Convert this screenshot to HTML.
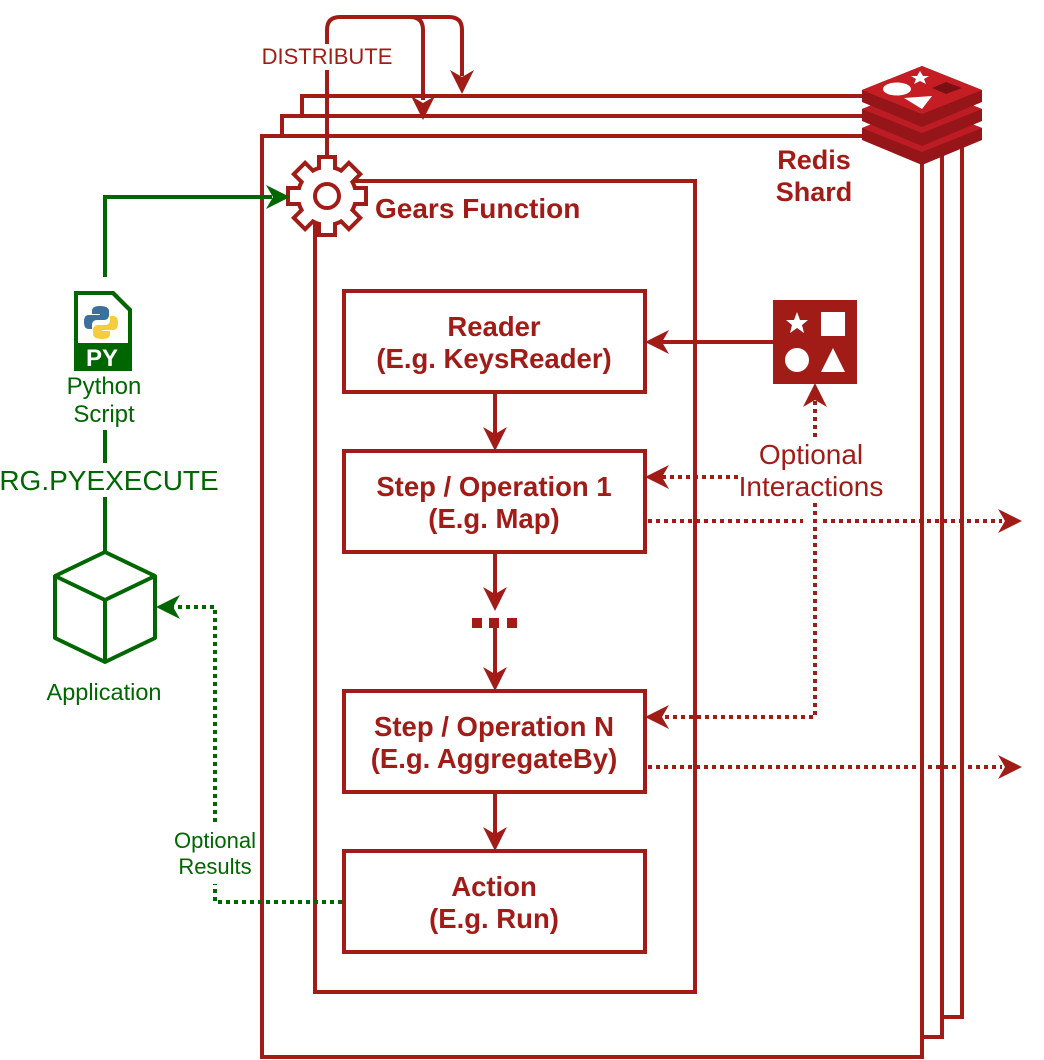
<!DOCTYPE html>
<html><head><meta charset="utf-8"><style>
html,body{margin:0;padding:0;background:#fff;}
svg{display:block;}
text{font-family:"Liberation Sans",sans-serif;}
</style></head><body>
<svg width="1044" height="1060" viewBox="0 0 1044 1060" xmlns="http://www.w3.org/2000/svg">
<defs>
<g id="ah"><polygon points="0,0 -24,-12 -17,0 -24,12"/></g>
<g id="teeth">
<circle r="27"/>
<rect x="-6" y="-37" width="12" height="12" transform="rotate(0)"/>
<rect x="-6" y="-37" width="12" height="12" transform="rotate(45)"/>
<rect x="-6" y="-37" width="12" height="12" transform="rotate(90)"/>
<rect x="-6" y="-37" width="12" height="12" transform="rotate(135)"/>
<rect x="-6" y="-37" width="12" height="12" transform="rotate(180)"/>
<rect x="-6" y="-37" width="12" height="12" transform="rotate(225)"/>
<rect x="-6" y="-37" width="12" height="12" transform="rotate(270)"/>
<rect x="-6" y="-37" width="12" height="12" transform="rotate(315)"/>
</g>
</defs>
<g fill="none" stroke="#A21C17" stroke-width="4">
<rect x="302" y="96" width="660" height="921" fill="#fff"/>
<rect x="282" y="116" width="660" height="921" fill="#fff"/>
<rect x="262" y="136" width="660" height="921" fill="#fff"/>
<rect x="315" y="181" width="380" height="811"/>
</g>
<g fill="none" stroke="#A21C17" stroke-width="4">
<path d="M327,160 V30 Q327,17 340,17 H410 Q423,17 423,30 V100"/>
<path d="M410,17 H449 Q462,17 462,30 V76"/>
</g>
<rect x="258" y="44" width="138" height="26" fill="#fff"/>
<text x="327" y="64" font-size="22" fill="#A21C17" text-anchor="middle">DISTRIBUTE</text>
<g fill="#A21C17">
<use href="#ah" transform="translate(423,120) rotate(90)"/>
<use href="#ah" transform="translate(462,94) rotate(90)"/>
</g>
<g transform="translate(327,196)">
<use href="#teeth" fill="#fff" stroke="#A21C17" stroke-width="8"/>
<use href="#teeth" fill="#fff"/>
<circle r="12" fill="none" stroke="#A21C17" stroke-width="4"/>
</g>
<text x="375" y="218" font-size="28" font-weight="bold" fill="#A21C17">Gears Function</text>
<text x="814" y="169" font-size="27" font-weight="bold" fill="#A21C17" text-anchor="middle">Redis</text>
<text x="814" y="201" font-size="27" font-weight="bold" fill="#A21C17" text-anchor="middle">Shard</text>
<g>
<g transform="translate(0,38)"><path d="M862,90 L922,66 L982,90 V102 L922,127 L862,102 Z" fill="#951519"/><polygon points="862,90 922,66 982,90 922,114" fill="#BE1C24"/></g>
<g transform="translate(0,19)"><path d="M862,90 L922,66 L982,90 V102 L922,127 L862,102 Z" fill="#951519"/><polygon points="862,90 922,66 982,90 922,114" fill="#BE1C24"/></g>
<path d="M862,90 L922,66 L982,90 V102 L922,127 L862,102 Z" fill="#951519"/>
<polygon points="862,90 922,66 982,90 922,114" fill="#C41E24"/>
<ellipse cx="897" cy="89" rx="14" ry="6.5" fill="#fff"/>
<polygon points="920,71 923,76 929,76 924,79 926,84 920,81 914,84 916,79 911,76 917,76" fill="#fff"/>
<polygon points="904,98 932,96 922,109" fill="#fff"/>
<polygon points="932,88 946,82 962,88 946,94" fill="#7A1014"/>
</g>
<g fill="#fff" stroke="#A21C17" stroke-width="4">
<rect x="344" y="291" width="301" height="101"/>
<rect x="344" y="451" width="301" height="101"/>
<rect x="344" y="691" width="301" height="101"/>
<rect x="344" y="851" width="301" height="101"/>
</g>
<g font-size="27.5" font-weight="bold" fill="#A21C17" text-anchor="middle">
<text x="494" y="336">Reader</text><text x="494" y="368">(E.g. KeysReader)</text>
<text x="494" y="496">Step / Operation 1</text><text x="494" y="528">(E.g. Map)</text>
<text x="494" y="736">Step / Operation N</text><text x="494" y="768">(E.g. AggregateBy)</text>
<text x="494" y="896">Action</text><text x="494" y="928">(E.g. Run)</text>
</g>
<g stroke="#A21C17" stroke-width="4">
<line x1="495" y1="393" x2="495" y2="435"/>
<line x1="495" y1="553" x2="495" y2="595"/>
<line x1="495" y1="625" x2="495" y2="675"/>
<line x1="495" y1="793" x2="495" y2="835"/>
</g>
<g fill="#A21C17">
<use href="#ah" transform="translate(495,451) rotate(90)"/>
<use href="#ah" transform="translate(495,611) rotate(90)"/>
<use href="#ah" transform="translate(495,691) rotate(90)"/>
<use href="#ah" transform="translate(495,851) rotate(90)"/>
<rect x="472" y="618" width="10" height="10"/><rect x="489" y="618" width="10" height="10"/><rect x="507" y="618" width="10" height="10"/>
</g>
<rect x="773" y="300" width="84" height="84" fill="#A21C17"/>
<polygon points="797,312 800,320 808,320 802,325 804,333 797,328 790,333 792,325 786,320 794,320" fill="#fff"/>
<rect x="821" y="312" width="24" height="24" fill="#fff"/>
<circle cx="797" cy="360" r="12" fill="#fff"/>
<polygon points="833,348 845,372 821,372" fill="#fff"/>
<line x1="773" y1="342" x2="660" y2="342" stroke="#A21C17" stroke-width="4"/>
<use href="#ah" transform="translate(645,342) rotate(180)" fill="#A21C17"/>
<g fill="none" stroke="#A21C17" stroke-width="4" stroke-dasharray="4 4">
<line x1="815" y1="437" x2="815" y2="400"/>
<line x1="738" y1="477" x2="662" y2="477"/>
<line x1="648" y1="521" x2="803" y2="521"/>
<line x1="823" y1="521" x2="1002" y2="521"/>
<path d="M815,503 V717 H662"/>
<line x1="648" y1="767" x2="1002" y2="767"/>
</g>
<g fill="#A21C17">
<use href="#ah" transform="translate(815,383) rotate(-90)"/>
<use href="#ah" transform="translate(645,477) rotate(180)"/>
<use href="#ah" transform="translate(645,717) rotate(180)"/>
<use href="#ah" transform="translate(1022,521)"/>
<use href="#ah" transform="translate(1022,767)"/>
</g>
<g font-size="28" fill="#A21C17" text-anchor="middle">
<text x="811" y="464">Optional</text><text x="811" y="496">Interactions</text>
</g>
<g fill="none" stroke="#006600" stroke-width="4">
<path d="M105,277 V197 H272"/>
<line x1="105" y1="430" x2="105" y2="463"/>
<line x1="105" y1="497" x2="105" y2="552"/>
<path d="M105,552 L155,576 V638 L105,662 L55,638 V576 Z M55,576 L105,600 L155,576 M105,600 V662" stroke-linejoin="round"/>
</g>
<use href="#ah" transform="translate(290,197)" fill="#006600"/>
<g fill="none" stroke="#006600" stroke-width="4" stroke-dasharray="4 4">
<path d="M215,822 V607 H172"/>
<path d="M342,902 H215 V884"/>
</g>
<use href="#ah" transform="translate(156,607) rotate(180)" fill="#006600"/>
<path d="M74,291 H114 L132,309 V371 H74 Z" fill="#006600"/>
<path d="M78,295 H112 L128,311 V343 H78 Z" fill="#fff"/>
<path d="M100,306 c-6,0 -8,2 -8,5 v3 h8 v1 h-11 c-4,0 -5,3 -5,7 c0,4 1,7 5,7 h3 v-4 c0,-3 2,-5 5,-5 h7 c3,0 5,-2 5,-5 v-4 c0,-3 -3,-5 -9,-5z" fill="#3A6F9E"/>
<path d="M102,339 c6,0 8,-2 8,-5 v-3 h-8 v-1 h11 c4,0 5,-3 5,-7 c0,-4 -1,-7 -5,-7 h-3 v4 c0,3 -2,5 -5,5 h-7 c-3,0 -5,2 -5,5 v4 c0,3 3,5 9,5z" fill="#F5CD3C"/>
<text x="102" y="366" font-size="24" font-weight="bold" fill="#fff" text-anchor="middle">PY</text>
<g fill="#006600" text-anchor="middle">
<text x="104" y="394" font-size="24">Python</text>
<text x="104" y="422" font-size="24">Script</text>
<text x="109" y="490" font-size="28">RG.PYEXECUTE</text>
<text x="104" y="700" font-size="23.5">Application</text>
<text x="215" y="848" font-size="22">Optional</text>
<text x="215" y="874" font-size="22">Results</text>
</g>
</svg>
</body></html>
